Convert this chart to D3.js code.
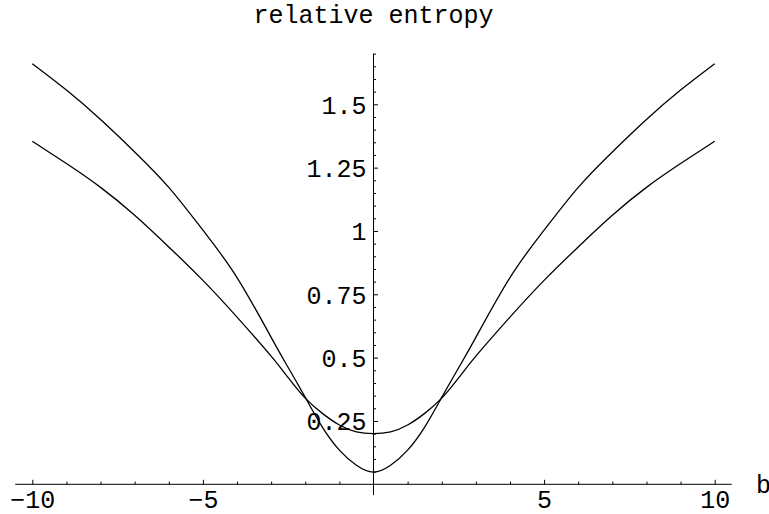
<!DOCTYPE html>
<html>
<head>
<meta charset="utf-8">
<script src="https://cdn.jsdelivr.net/npm/d3@7"></script>
<style>
  html, body { margin: 0; padding: 0; background: #fff; }
  svg { display: block; }
  text { font-family: "Liberation Mono", "Courier New", "DejaVu Sans Mono", monospace; fill: #000; }
</style>
</head>
<body>
<svg id="chart" width="769" height="514"></svg>
<script>
// ---- data ----
const bValues = [-10, -9, -8, -7, -6, -5, -4, -3, -2.5, -2, -1.5, -1, -0.5, 0, 0.5, 1, 1.5, 2, 2.5, 3, 4, 5, 6, 7, 8, 9, 10];
// values for b = 0, 0.5, 1, 1.5, 2, 2.5, 3, 4, 5, 6, 7, 8, 9, 10 (curves are symmetric in b)
const steepHalf = [0.048, 0.075, 0.135, 0.226, 0.343, 0.461, 0.580, 0.816, 1.003, 1.172, 1.312, 1.440, 1.556, 1.660];
const shallowHalf = [0.200, 0.207, 0.234, 0.280, 0.340, 0.421, 0.506, 0.660, 0.805, 0.937, 1.062, 1.172, 1.266, 1.354];
const steepCurve = steepHalf.slice(1).reverse().concat(steepHalf);
const shallowCurve = shallowHalf.slice(1).reverse().concat(shallowHalf);
const xMajorTicks = [-10, -5, 5, 10];
const xMinorTicks = [-9, -8, -7, -6, -4, -3, -2, -1, 1, 2, 3, 4, 6, 7, 8, 9];
const yMajorTicks = [0.25, 0.5, 0.75, 1, 1.25, 1.5];
const yMinorTicks = [0.05, 0.1, 0.15, 0.2, 0.3, 0.35, 0.4, 0.45, 0.55, 0.6, 0.65, 0.7, 0.8, 0.85, 0.9, 0.95,
                     1.05, 1.1, 1.15, 1.2, 1.3, 1.35, 1.4, 1.45, 1.55, 1.6, 1.65, 1.7];
const titleText = "relative entropy";
const xAxisLabel = "b";

// ---- layout ----
const svg = d3.select("#chart");
const x = d3.scaleLinear().domain([-10, 10]).range([32.3, 714.7]);
const y = d3.scaleLinear().domain([0, 1.5]).range([484.3, 104.3]);
const fontSize = 25;

// axes lines
svg.append("line")
  .attr("x1", x(-10.5)).attr("x2", x(10.5))
  .attr("y1", y(0)).attr("y2", y(0))
  .attr("stroke", "#000").attr("stroke-width", 1);
svg.append("line")
  .attr("x1", x(0)).attr("x2", x(0))
  .attr("y1", y(1.7)).attr("y2", y(-0.043))
  .attr("stroke", "#000").attr("stroke-width", 1);

// x axis major ticks with labels
const gxMaj = svg.append("g").attr("transform", `translate(0,${y(0)})`)
  .call(d3.axisBottom(x).tickValues(xMajorTicks).tickSize(-4.5).tickFormat(d3.format("d")));
gxMaj.select(".domain").remove();
gxMaj.selectAll("text").attr("y", 24).attr("dy", 0)
  .style("font-size", fontSize + "px").style("font-family", null);
const gxMin = svg.append("g").attr("transform", `translate(0,${y(0)})`)
  .call(d3.axisBottom(x).tickValues(xMinorTicks).tickSize(-2.7).tickFormat(""));
gxMin.select(".domain").remove();

// y axis major ticks with labels
const gyMaj = svg.append("g").attr("transform", `translate(${x(0)},0)`)
  .call(d3.axisLeft(y).tickValues(yMajorTicks).tickSize(-4.5).tickPadding(7).tickFormat(d3.format("~g")));
gyMaj.select(".domain").remove();
gyMaj.selectAll("text").attr("dy", "0.36em")
  .style("font-size", fontSize + "px").style("font-family", null);
const gyMin = svg.append("g").attr("transform", `translate(${x(0)},0)`)
  .call(d3.axisLeft(y).tickValues(yMinorTicks).tickSize(-2.5).tickFormat(""));
gyMin.select(".domain").remove();

svg.selectAll(".tick line").attr("stroke", "#000").attr("stroke-width", 1);
svg.selectAll("g").attr("font-family", null).attr("font-size", null);

// curves
const line = d3.line()
  .x((d, i) => x(bValues[i]))
  .y(d => y(d))
  .curve(d3.curveNatural);
[steepCurve, shallowCurve].forEach(series => {
  svg.append("path")
    .datum(series)
    .attr("d", line)
    .attr("fill", "none")
    .attr("stroke", "#000")
    .attr("stroke-width", 1.3);
});

// title and axis label
svg.append("text")
  .attr("x", x(0)).attr("y", 23)
  .attr("text-anchor", "middle")
  .style("font-size", fontSize + "px")
  .text(titleText);
svg.append("text")
  .attr("x", 756).attr("y", 493)
  .style("font-size", fontSize + "px")
  .text(xAxisLabel);
</script>
</body>
</html>
